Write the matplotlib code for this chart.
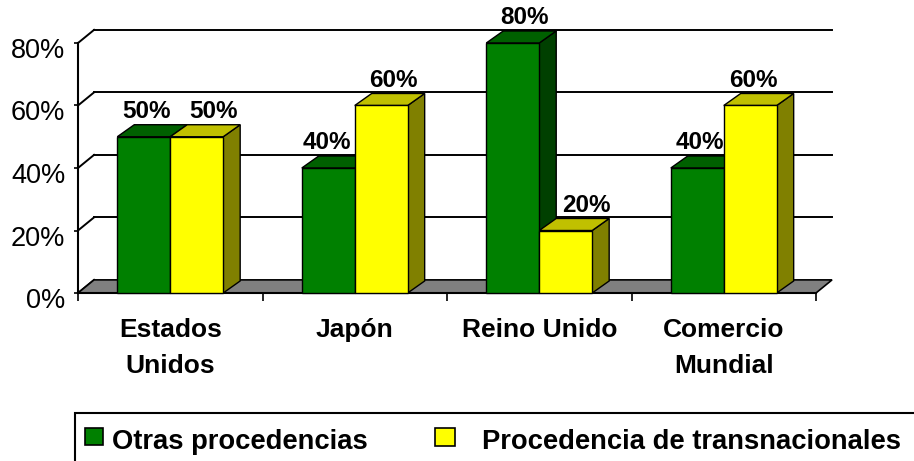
import numpy as np
import matplotlib.pyplot as plt
import matplotlib.transforms as mtransforms
from matplotlib.patches import Polygon, Rectangle
from matplotlib.ticker import PercentFormatter

# data
categories = ['Estados\nUnidos', 'Japón', 'Reino Unido', 'Comercio\nMundial']
otras = [50, 40, 80, 40]
transnacionales = [50, 60, 20, 60]
series_names = ['Otras procedencias', 'Procedencia de transnacionales']
y_ticks = [0, 20, 40, 60, 80]

# excel-like 3d colours: front, top, side
green = ('#008000', '#006000', '#004000')
yellow = ('#FFFF00', '#C0C000', '#808000')

# sideways nudge of the value labels (pixels), as excel placed them
green_nudge = [-6, -10, 3, -6]
yellow_nudge = [8, 4, 12, -5]

plt.rcParams['font.family'] = ['Liberation Sans', 'DejaVu Sans']

W, H = 914, 461
fig = plt.figure(figsize=(W / 100, H / 100), dpi=100)
ax = fig.add_axes([78 / W, 1 - 293 / H, 738 / W, 250 / H])
ax.set_xlim(0, len(categories))
ax.set_ylim(0, y_ticks[-1])

# depth of the box and of the bars (data units)
wdx, wdy = 0.087, 4.2
bdx, bdy = 0.092, 3.85
bw = 0.287
n = len(categories)

# floor
ax.add_patch(Polygon([(0, 0), (n, 0), (n + wdx, wdy), (wdx, wdy)], closed=True,
                     fc='#808080', ec='black', lw=1.2, zorder=1, clip_on=False))

# back wall gridlines and left wall
for t in y_ticks[1:]:
    ax.plot([wdx, n + wdx], [t + wdy, t + wdy], color='black', lw=1.4,
            zorder=0.5, clip_on=False)
for t in y_ticks:
    ax.plot([0, wdx], [t, t + wdy], color='black', lw=1.4, zorder=0.5, clip_on=False)


def bar3d(x0, h, cols, nudge):
    front, top, side = cols
    ax.add_patch(Polygon([(x0 + bw, 0), (x0 + bw + bdx, bdy), (x0 + bw + bdx, h + bdy), (x0 + bw, h)],
                         closed=True, fc=side, ec='black', lw=1.0, zorder=3, clip_on=False))
    ax.add_patch(Polygon([(x0, h), (x0 + bdx, h + bdy), (x0 + bw + bdx, h + bdy), (x0 + bw, h)],
                         closed=True, fc=top, ec='black', lw=1.0, zorder=3, clip_on=False))
    ax.bar(x0, h, width=bw, align='edge', color=front, ec='black', lw=1.0,
           zorder=3, clip_on=False)
    ax.annotate(f'{h}%', xy=(x0 + bw / 2 + bdx / 2, h + bdy), xytext=(nudge * 0.72, 5),
                textcoords='offset points', ha='center', va='baseline',
                fontsize=17.5, fontweight='bold', annotation_clip=False, zorder=5)


for i in range(n):
    bar3d(i + 0.5 - bw, otras[i], green, green_nudge[i])
    bar3d(i + 0.5, transnacionales[i], yellow, yellow_nudge[i])

# axes
for s in ['top', 'right']:
    ax.spines[s].set_visible(False)
ax.spines['left'].set_linewidth(1.5)
ax.spines['bottom'].set_linewidth(1.5)
ax.spines['left'].set_zorder(4)
ax.spines['bottom'].set_zorder(2)

ax.set_yticks(y_ticks)
ax.yaxis.set_major_formatter(PercentFormatter(decimals=0))
ax.tick_params(axis='y', length=3, width=1.2, pad=6, labelsize=19.5)
shift = mtransforms.ScaledTranslation(0, -5 / 100, fig.dpi_scale_trans)
for lbl in ax.get_yticklabels():
    lbl.set_transform(lbl.get_transform() + shift)

ax.set_xticks(np.arange(n) + 0.5, categories)
ax.set_xticks(np.arange(n + 1), minor=True)
ax.tick_params(axis='x', which='major', length=0, pad=18, labelsize=19)
ax.tick_params(axis='x', which='minor', length=6, width=1.2, direction='out')
for lbl in ax.get_xticklabels():
    lbl.set_fontweight('bold')
    lbl.set_linespacing(1.62)

# legend box, running off the right and bottom edges
fig.add_artist(Rectangle((75 / W, -0.05), 1.0, 1 - 413 / H + 0.05, fill=False,
                         ec='black', lw=1.5, transform=fig.transFigure, clip_on=False))
legend_spots = [(85, 112, 18, 17), (435, 482, 20, 18)]
for (hx, tx, hw, hh), name, cols in zip(legend_spots, series_names, [green, yellow]):
    fig.add_artist(Rectangle((hx / W, 1 - (428 + hh) / H), hw / W, hh / H,
                             fc=cols[0], ec='black', lw=1.2, transform=fig.transFigure))
    fig.text(tx / W, 1 - 449 / H, name, fontsize=19.7, fontweight='bold',
             ha='left', va='baseline')

fig.savefig('out.png', dpi=100)
